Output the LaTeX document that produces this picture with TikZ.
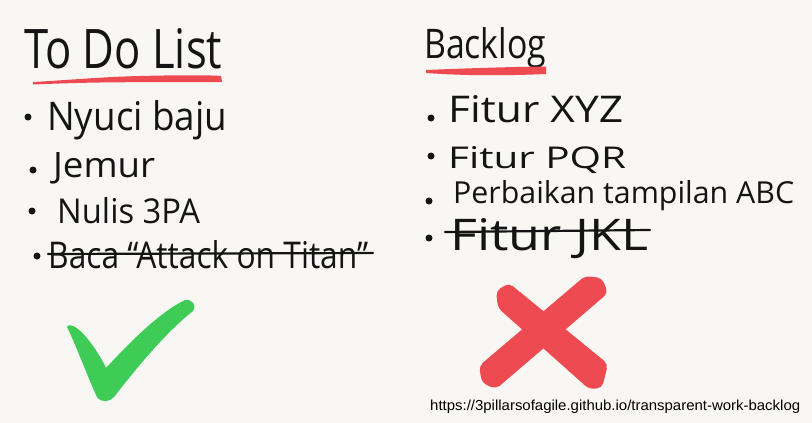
\documentclass[tikz,border=0pt]{standalone}
\usepackage{fontspec}
\setmainfont{Open Sans}
\newfontfamily\urlfont{Liberation Sans}
\usepackage{graphicx}
\definecolor{paper}{HTML}{F8F7F3}
\definecolor{ink}{HTML}{141414}
\definecolor{markred}{HTML}{EE4A52}
\definecolor{checkgreen}{HTML}{3ECC56}
\newcommand\hwtext[3]{\resizebox{#1pt}{#2pt}{#3}}
\begin{document}
\begin{tikzpicture}[x=1pt,y=-1pt,
  hand/.style={anchor=base west,inner sep=0pt,text=ink},
  dotb/.style={circle,fill=ink,inner sep=0pt,minimum size=7pt},
  strike/.style={draw=ink,line width=2.2pt,line cap=round},
  weburl/.style={anchor=base west,inner sep=0pt,text=black,font=\urlfont}]
\useasboundingbox (0,0) rectangle (812,423);
\fill[paper] (0,0) rectangle (812,423);

% titles
\node[hand] (todo) at (24,68) {\hwtext{198}{40}{To Do List}};
\fill[markred] (33,82) .. controls (70,80) and (100,77) .. (140,76)
  .. controls (180,75) and (210,75) .. (221,76) -- (222,82)
  .. controls (180,82) and (140,82) .. (100,82.5)
  .. controls (70,83) and (45,84) .. (33,84.5) -- cycle;
\node[hand] (backlog) at (424,58) {\hwtext{122}{31}{Backlog}};
\fill[markred] (426,70) .. controls (450,69) and (500,67) .. (546,66.5) -- (546,74)
  .. controls (500,76) and (460,75.5) .. (426,73) -- cycle;

% to do items
\node[dotb] (b1) at (28,117) {};
\node[hand] (t1) at (47,130) {\hwtext{180}{30}{Nyuci baju}};
\node[dotb] (b2) at (33,170) {};
\node[hand] (t2) at (53,177) {\hwtext{102}{25}{Jemur}};
\node[dotb] (b3) at (32,211) {};
\node[hand] (t3) at (57,223) {\hwtext{143}{26}{Nulis 3PA}};
\node[dotb] (b4) at (37,256) {};
\node[hand] (t4) at (48,268) {\hwtext{320}{28}{Baca “Attack on Titan”}};
\draw[strike] (t4.west |- 0,254) coordinate (s1a) -- (373,253) coordinate (s1b);

% backlog items
\node[dotb] (c1) at (431,118) {};
\node[hand] (r1) at (448,122) {\hwtext{175}{27}{Fitur XYZ}};
\node[dotb] (c2) at (431,156) {};
\node[hand] (r2) at (448,168) {\hwtext{178}{22}{Fitur PQR}};
\node[dotb] (c3) at (429,201) {};
\node[hand] (r3) at (453,203) {\hwtext{341}{23}{Perbaikan tampilan ABC}};
\node[dotb] (c4) at (429,238) {};
\node[hand] (r4) at (450,250) {\hwtext{198}{32}{Fitur JKL}};
\draw[strike] (445,232) coordinate (s2a) -- (650,230) coordinate (s2b);

% green check
\fill[checkgreen] (67,327) .. controls (76,345) and (88,378) .. (97,397)
  .. controls (101,403) and (110,402) .. (114,397)
  .. controls (135,370) and (165,333) .. (193,311)
  .. controls (197,305) and (192,299) .. (185,300)
  .. controls (160,312) and (130,342) .. (106,368)
  .. controls (100,355) and (88,337) .. (78,329)
  .. controls (73,325) and (68,324) .. cycle;

% red cross
\fill[markred,rounded corners=5pt] (496,291) -- (509,283) -- (608,364) -- (602,388)
  -- (589,389) -- (498,308) -- cycle;
\fill[markred,rounded corners=5pt] (585,276) -- (602,278) -- (608,293) -- (496,389)
  -- (482,383) -- (479,366) -- cycle;

% source
\node[weburl] (src) at (430,410) {\hwtext{370}{10.5}{https://3pillarsofagile.github.io/transparent-work-backlog}};
\end{tikzpicture}
\end{document}
